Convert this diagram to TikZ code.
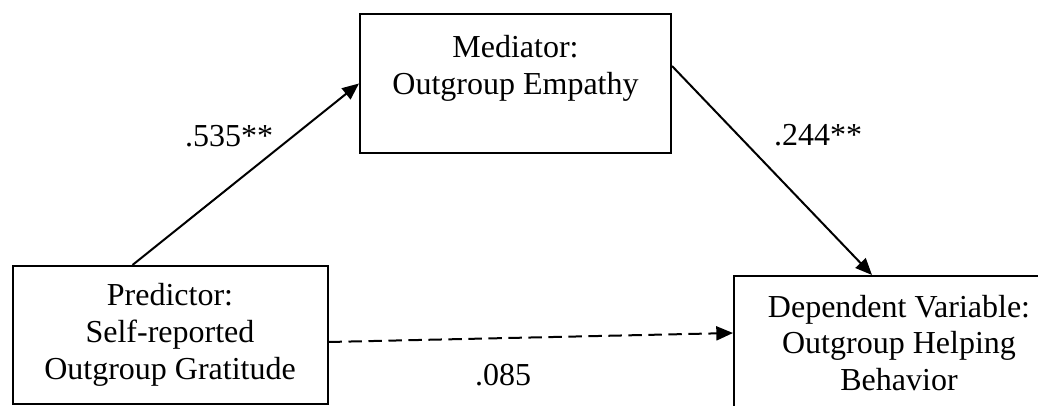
\documentclass[tikz,border=0pt]{standalone}
\usepackage{fontspec}
\setmainfont{Liberation Serif}
\usetikzlibrary{arrows.meta,calc}

\tikzset{
  varbox/.style={draw, line width=1.5pt, align=center, inner sep=0pt,
    font=\fontsize{24}{27.5}\selectfont},
  coef/.style={font=\fontsize{24}{27.5}\selectfont},
  path/.style={line width=1.5pt, -{Triangle[length=12.5pt,width=10.5pt]}}
}

\begin{document}
\begin{tikzpicture}[x=0.75pt, y=-0.75pt]
\useasboundingbox (0,0) rectangle (1038,406);

% boxes
\node[varbox, minimum width=236.25pt, minimum height=103.5pt] (pred) at (170,335)
  {Predictor:\\Self-reported\\Outgroup Gratitude};
\node[varbox, minimum width=233.25pt, minimum height=104.25pt] (med) at (515.5,83.5)
  {Mediator:\\Outgroup Empathy\\\mbox{}};
\node[varbox, minimum width=247.5pt, minimum height=100.5pt] (dv) at (899,343)
  {Dependent Variable:\\Outgroup Helping\\Behavior};

% paths
\draw[path] (pred.north west) ++(121,0) -- (med.west);
\draw[path] (med.east) ++(0,-17.5) -- ($(dv.north west)+(139,0)$);
\draw[path, dash pattern=on 10pt off 5pt] (pred.east) ++(0,7) -- ($(dv.west)+(0,-10)$);

% coefficients
\node[coef] (a) at (229,136) {.535**};
\node[coef] (b) at (818,135) {.244**};
\node[coef] (c) at (503,375) {.085};

\end{tikzpicture}
\end{document}
